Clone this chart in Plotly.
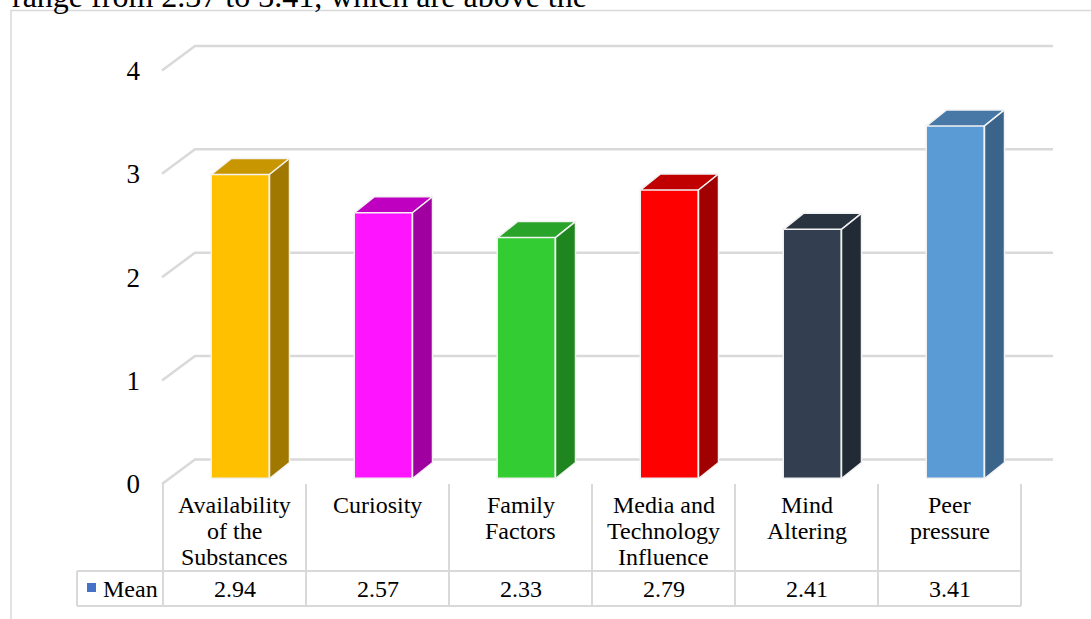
import plotly.graph_objects as go

# ---- data -------------------------------------------------------------
categories = [
    "Availability<br>of the<br>Substances",
    "Curiosity",
    "Family<br>Factors",
    "Media and<br>Technology<br>Influence",
    "Mind<br>Altering",
    "Peer<br>pressure",
]
mean_values = [2.94, 2.57, 2.33, 2.79, 2.41, 3.41]
value_labels = ["2.94", "2.57", "2.33", "2.79", "2.41", "3.41"]
series_name = "Mean"
y_ticks = [0, 1, 2, 3, 4]

front_colors = ["#FFC000", "#FF14FF", "#33CC33", "#FF0000", "#333F50", "#5B9BD5"]
top_colors = ["#C89600", "#C000C0", "#29A329", "#C00000", "#29323F", "#4778A6"]
side_colors = ["#A07800", "#A000A0", "#1F861F", "#A00000", "#222A35", "#3A6489"]

# ---- geometry (pixel layout of the 1091x619 canvas) ---------------------
W, H = 1091, 619
CELL_PX = 143.0          # width of one category column
CELL_LEFT_PX = 163.0     # left edge of the first category column
UNIT_PX = 103.4          # pixels per value unit
FLOOR_FRONT_PX = 484.0   # y pixel of value 0 on the front edge of the floor


def xd(px):
    """pixel x -> x-axis units (category index)"""
    return (px - CELL_LEFT_PX) / CELL_PX - 0.5


def yd(py):
    """pixel y -> y-axis units (value)"""
    return (FLOOR_FRONT_PX - py) / UNIT_PX


def dx(px):
    return px / CELL_PX


def dy(px):
    return px / UNIT_PX


SERIF = "Liberation Serif, Times New Roman, serif"
GRID = "#D9D9D9"
EDGE = "#F2F2F2"

fig = go.Figure()

# wall depth and bar depth offsets
wall_dx, wall_dy = dx(33), dy(24.5)
bar_dx, bar_dy = dx(20), dy(16)
bar_base = dy(5.5)
bar_width = dx(58)
bar_shift = dx(6)

shapes = []

# back-wall gridlines with their diagonal run across the side wall
x_front = xd(162)
x_end = xd(1053)
for t in y_ticks:
    path = (f"M {x_front},{t} L {x_front + wall_dx},{t + wall_dy} "
            f"L {x_end},{t + wall_dy}")
    shapes.append(dict(type="path", path=path, xref="x", yref="y",
                       line=dict(color=GRID, width=2.5), layer="below"))

# front faces of the bars
idx = list(range(len(categories)))
fig.add_trace(go.Bar(
    x=[i + bar_shift for i in idx],
    y=mean_values,
    base=bar_base,
    width=bar_width,
    marker=dict(color=front_colors, line=dict(color=EDGE, width=1.5)),
    hoverinfo="skip",
    showlegend=False,
))

# top and side faces of the bars
for i, v in enumerate(mean_values):
    xl = i + bar_shift - bar_width / 2
    xr = i + bar_shift + bar_width / 2
    top = bar_base + v
    fig.add_trace(go.Scatter(
        x=[xl, xl + bar_dx, xr + bar_dx, xr, xl],
        y=[top, top + bar_dy, top + bar_dy, top, top],
        fill="toself", fillcolor=top_colors[i], mode="lines",
        line=dict(color=EDGE, width=1.5), hoverinfo="skip", showlegend=False,
    ))
    fig.add_trace(go.Scatter(
        x=[xr, xr, xr + bar_dx, xr + bar_dx, xr],
        y=[bar_base, top, top + bar_dy, bar_base + bar_dy, bar_base],
        fill="toself", fillcolor=side_colors[i], mode="lines",
        line=dict(color=EDGE, width=1.5), hoverinfo="skip", showlegend=False,
    ))

# data table below the chart
tbl_top, tbl_mid, tbl_bot = yd(484), yd(571), yd(606)
legend_left = xd(77)
tbl_right = len(categories) - 0.5
for k in range(len(categories) + 1):
    xb = k - 0.5
    shapes.append(dict(type="line", xref="x", yref="y", x0=xb, x1=xb,
                       y0=tbl_top, y1=tbl_bot, line=dict(color=GRID, width=2)))
for yy in (tbl_mid, tbl_bot):
    shapes.append(dict(type="line", xref="x", yref="y", x0=legend_left, x1=tbl_right,
                       y0=yy, y1=yy, line=dict(color=GRID, width=2)))
shapes.append(dict(type="line", xref="x", yref="y", x0=legend_left, x1=legend_left,
                   y0=tbl_mid, y1=tbl_bot, line=dict(color=GRID, width=2)))
# legend key
shapes.append(dict(type="rect", xref="x", yref="y", x0=xd(87), x1=xd(96),
                   y0=yd(592), y1=yd(583), fillcolor="#4472C4",
                   line=dict(width=0)))
# outer chart frame
shapes.append(dict(type="rect", xref="paper", yref="paper",
                   x0=11 / W, x1=1.05, y0=-0.05, y1=1 - 10.5 / H,
                   line=dict(color=GRID, width=1.5), layer="below"))

annotations = []
line_gap = 26.3
for i, label in enumerate(categories):
    for k, part in enumerate(label.split("<br>")):
        annotations.append(dict(
            x=i, y=yd(504.5 + k * line_gap), xref="x", yref="y", text=part,
            showarrow=False, xanchor="center", yanchor="middle",
            font=dict(family=SERIF, size=24, color="black")))
    annotations.append(dict(
        x=i, y=yd(588.5), xref="x", yref="y", text=value_labels[i],
        showarrow=False, xanchor="center", yanchor="middle",
        font=dict(family=SERIF, size=24, color="black")))
annotations.append(dict(
    x=xd(101), y=yd(588.5), xref="x", yref="y", text=series_name,
    showarrow=False, xanchor="left", yanchor="middle",
    font=dict(family=SERIF, size=24, color="black")))

# running text of the page above the chart
annotations.append(dict(
    x=10 / W, y=1 - 16 / H, xref="paper", yref="paper",
    text="range from 2.37 to 3.41, which are above the",
    showarrow=False, xanchor="left", yanchor="bottom",
    font=dict(family=SERIF, size=32, color="black")))

fig.update_layout(
    width=W, height=H,
    margin=dict(l=0, r=0, t=0, b=0),
    paper_bgcolor="white", plot_bgcolor="white",
    showlegend=False,
    shapes=shapes,
    annotations=annotations,
    xaxis=dict(range=[xd(0), xd(W)], visible=False, fixedrange=True),
    yaxis=dict(range=[yd(H), yd(0)], anchor="free", position=162 / W,
               tickvals=y_ticks, ticktext=[str(t) for t in y_ticks],
               ticks="", showgrid=False, zeroline=False, showline=False,
               ticklabelstandoff=22, fixedrange=True,
               tickfont=dict(family=SERIF, size=27, color="black")),
    bargap=0,
)

fig.write_html("out.html")
